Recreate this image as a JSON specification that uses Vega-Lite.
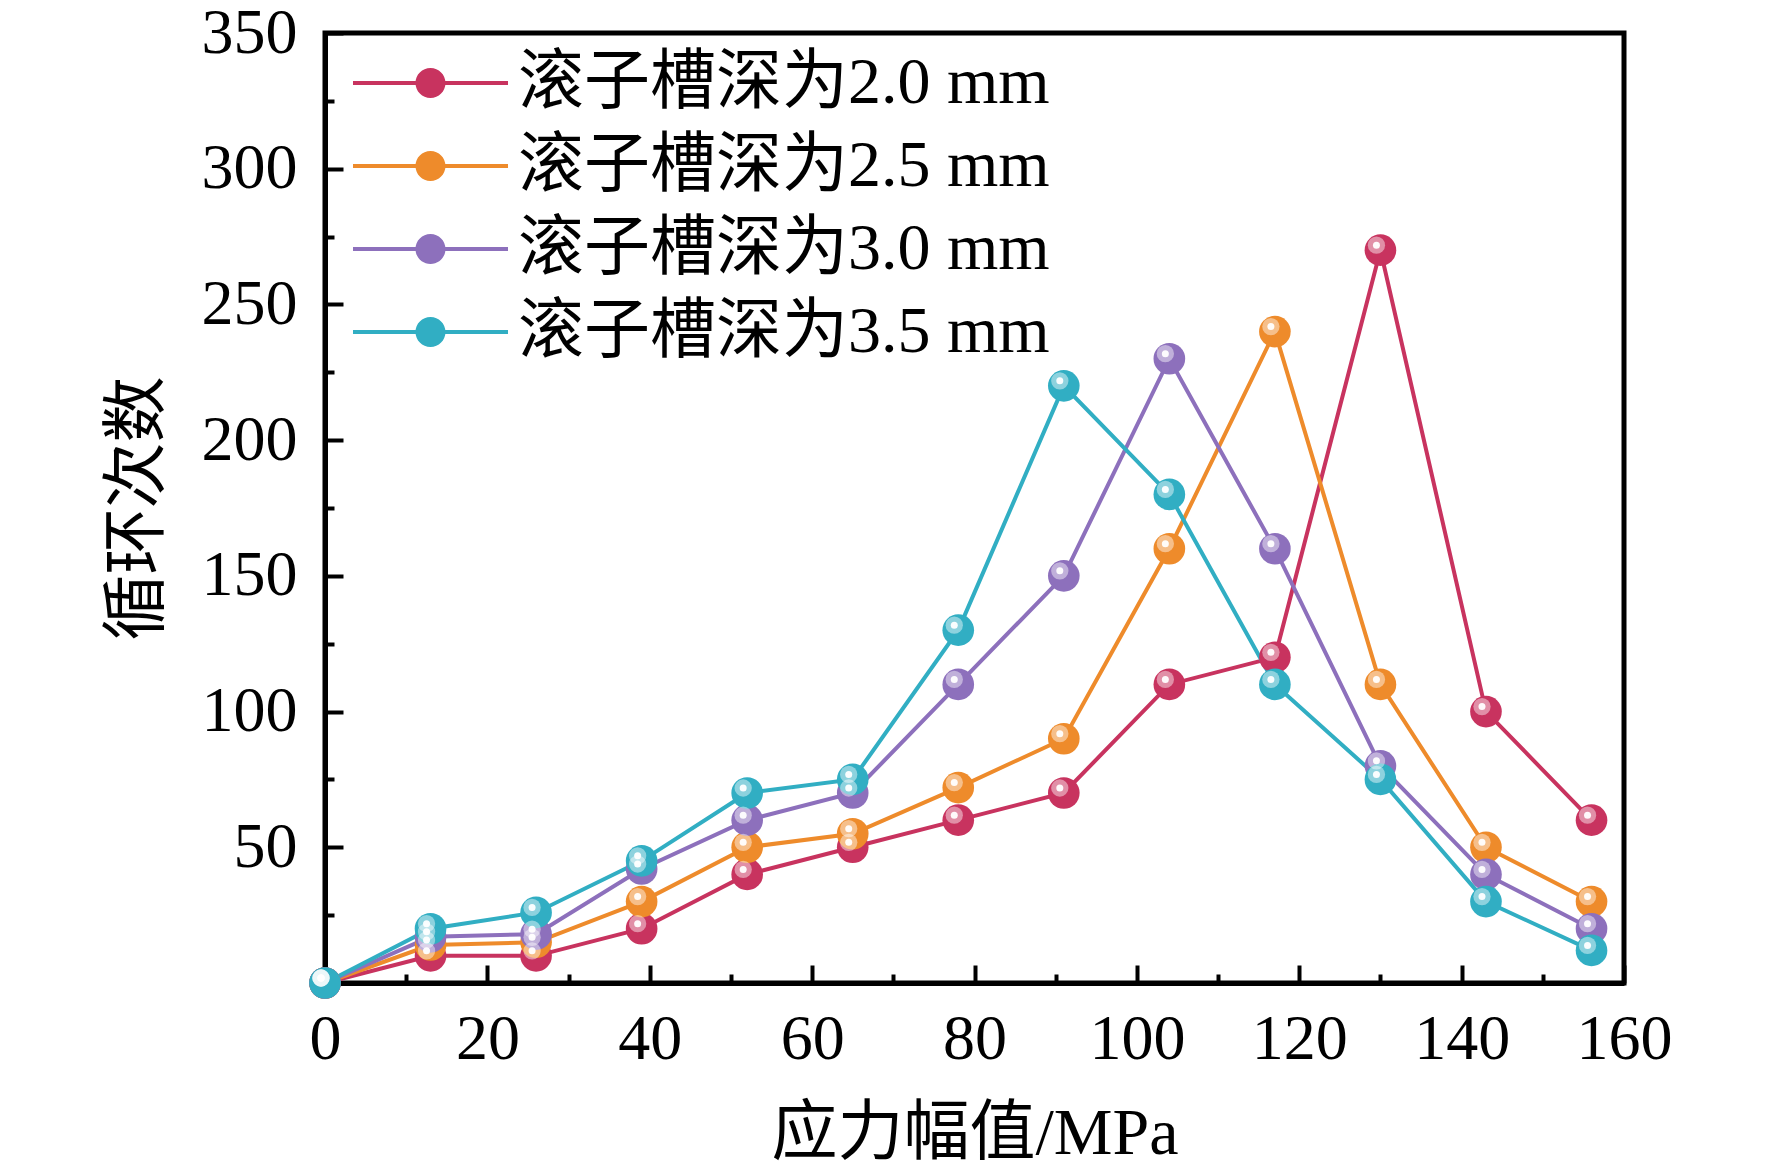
{
  "$schema": "https://vega.github.io/schema/vega-lite/v6.json",
  "autosize": {"type": "none"},
  "padding": {"left": 325, "top": 33, "right": 148, "bottom": 189},
  "width": 1299,
  "height": 950,
  "background": "white",
  "config": {
    "view": {"stroke": "black", "strokeWidth": 5},
    "font": "Liberation Serif, Noto Sans CJK SC",
    "axis": {
      "grid": false,
      "domainColor": "black",
      "domainWidth": 5,
      "tickColor": "black",
      "tickWidth": 4,
      "labelFont": "Liberation Serif",
      "labelFontSize": 64,
      "labelColor": "black",
      "titleFont": "Liberation Serif, Noto Sans CJK SC",
      "titleFontSize": 66,
      "titleFontWeight": "normal",
      "titleColor": "black"
    },
    "legend": {
      "labelFont": "Liberation Serif, Noto Sans CJK SC",
      "labelFontSize": 66,
      "labelColor": "black",
      "labelLimit": 0
    }
  },
  "data": {
    "values": [
      {"stress": 0, "cycles": 0, "depth": "滚子槽深为2.0 mm"},
      {"stress": 13, "cycles": 10, "depth": "滚子槽深为2.0 mm"},
      {"stress": 26, "cycles": 10, "depth": "滚子槽深为2.0 mm"},
      {"stress": 39, "cycles": 20, "depth": "滚子槽深为2.0 mm"},
      {"stress": 52, "cycles": 40, "depth": "滚子槽深为2.0 mm"},
      {"stress": 65, "cycles": 50, "depth": "滚子槽深为2.0 mm"},
      {"stress": 78, "cycles": 60, "depth": "滚子槽深为2.0 mm"},
      {"stress": 91, "cycles": 70, "depth": "滚子槽深为2.0 mm"},
      {"stress": 104, "cycles": 110, "depth": "滚子槽深为2.0 mm"},
      {"stress": 117, "cycles": 120, "depth": "滚子槽深为2.0 mm"},
      {"stress": 130, "cycles": 270, "depth": "滚子槽深为2.0 mm"},
      {"stress": 143, "cycles": 100, "depth": "滚子槽深为2.0 mm"},
      {"stress": 156, "cycles": 60, "depth": "滚子槽深为2.0 mm"},
      {"stress": 0, "cycles": 0, "depth": "滚子槽深为2.5 mm"},
      {"stress": 13, "cycles": 14, "depth": "滚子槽深为2.5 mm"},
      {"stress": 26, "cycles": 15, "depth": "滚子槽深为2.5 mm"},
      {"stress": 39, "cycles": 30, "depth": "滚子槽深为2.5 mm"},
      {"stress": 52, "cycles": 50, "depth": "滚子槽深为2.5 mm"},
      {"stress": 65, "cycles": 55, "depth": "滚子槽深为2.5 mm"},
      {"stress": 78, "cycles": 72, "depth": "滚子槽深为2.5 mm"},
      {"stress": 91, "cycles": 90, "depth": "滚子槽深为2.5 mm"},
      {"stress": 104, "cycles": 160, "depth": "滚子槽深为2.5 mm"},
      {"stress": 117, "cycles": 240, "depth": "滚子槽深为2.5 mm"},
      {"stress": 130, "cycles": 110, "depth": "滚子槽深为2.5 mm"},
      {"stress": 143, "cycles": 50, "depth": "滚子槽深为2.5 mm"},
      {"stress": 156, "cycles": 30, "depth": "滚子槽深为2.5 mm"},
      {"stress": 0, "cycles": 0, "depth": "滚子槽深为3.0 mm"},
      {"stress": 13, "cycles": 17, "depth": "滚子槽深为3.0 mm"},
      {"stress": 26, "cycles": 18, "depth": "滚子槽深为3.0 mm"},
      {"stress": 39, "cycles": 42, "depth": "滚子槽深为3.0 mm"},
      {"stress": 52, "cycles": 60, "depth": "滚子槽深为3.0 mm"},
      {"stress": 65, "cycles": 70, "depth": "滚子槽深为3.0 mm"},
      {"stress": 78, "cycles": 110, "depth": "滚子槽深为3.0 mm"},
      {"stress": 91, "cycles": 150, "depth": "滚子槽深为3.0 mm"},
      {"stress": 104, "cycles": 230, "depth": "滚子槽深为3.0 mm"},
      {"stress": 117, "cycles": 160, "depth": "滚子槽深为3.0 mm"},
      {"stress": 130, "cycles": 80, "depth": "滚子槽深为3.0 mm"},
      {"stress": 143, "cycles": 40, "depth": "滚子槽深为3.0 mm"},
      {"stress": 156, "cycles": 20, "depth": "滚子槽深为3.0 mm"},
      {"stress": 0, "cycles": 0, "depth": "滚子槽深为3.5 mm"},
      {"stress": 13, "cycles": 20, "depth": "滚子槽深为3.5 mm"},
      {"stress": 26, "cycles": 26, "depth": "滚子槽深为3.5 mm"},
      {"stress": 39, "cycles": 45, "depth": "滚子槽深为3.5 mm"},
      {"stress": 52, "cycles": 70, "depth": "滚子槽深为3.5 mm"},
      {"stress": 65, "cycles": 75, "depth": "滚子槽深为3.5 mm"},
      {"stress": 78, "cycles": 130, "depth": "滚子槽深为3.5 mm"},
      {"stress": 91, "cycles": 220, "depth": "滚子槽深为3.5 mm"},
      {"stress": 104, "cycles": 180, "depth": "滚子槽深为3.5 mm"},
      {"stress": 117, "cycles": 110, "depth": "滚子槽深为3.5 mm"},
      {"stress": 130, "cycles": 75, "depth": "滚子槽深为3.5 mm"},
      {"stress": 143, "cycles": 30, "depth": "滚子槽深为3.5 mm"},
      {"stress": 156, "cycles": 12, "depth": "滚子槽深为3.5 mm"}
    ]
  },
  "encoding": {
    "x": {
      "field": "stress",
      "type": "quantitative",
      "title": "应力幅值/MPa",
      "scale": {"domain": [0, 160], "nice": false, "zero": false},
      "axis": {
        "values": [0, 10, 20, 30, 40, 50, 60, 70, 80, 90, 100, 110, 120, 130, 140, 150, 160],
        "labelExpr": "datum.value % 20 === 0 ? datum.label : ''",
        "tickSize": {"condition": {"test": "datum.value % 20 === 0", "value": -18}, "value": -9},
        "labelPadding": 42,
        "labelFlush": false,
        "titlePadding": 30
      }
    },
    "y": {
      "field": "cycles",
      "type": "quantitative",
      "title": "循环次数",
      "scale": {"domain": [0, 350], "nice": false, "zero": false},
      "axis": {
        "values": [0, 25, 50, 75, 100, 125, 150, 175, 200, 225, 250, 275, 300, 325, 350],
        "labelExpr": "datum.value % 50 === 0 && datum.value > 0 ? datum.label : ''",
        "tickSize": {"condition": {"test": "datum.value % 50 === 0", "value": -18}, "value": -9},
        "labelPadding": 46,
        "labelFlush": false,
        "titlePadding": 30
      }
    },
    "color": {
      "field": "depth",
      "type": "nominal",
      "scale": {
        "domain": ["滚子槽深为2.0 mm", "滚子槽深为2.5 mm", "滚子槽深为3.0 mm", "滚子槽深为3.5 mm"],
        "range": ["#C8335F", "#EE8B2B", "#8D70BC", "#31AEC3"]
      },
      "legend": {
        "title": null,
        "orient": "none",
        "legendX": 25,
        "legendY": 17,
        "padding": 0,
        "symbolType": "M-1,-0.067L4.167,-0.067L4.167,0.067L-1,0.067Z M1.083,0A0.5,0.5,0,1,1,2.083,0A0.5,0.5,0,1,1,1.083,0Z",
        "symbolSize": 3600,
        "symbolStrokeWidth": 0,
        "labelOffset": 102,
        "rowPadding": 17,
        "encode": {
          "symbols": {"update": {"fill": {"scale": "color", "field": "value"}, "opacity": {"value": 1}}}
        }
      }
    }
  },
  "layer": [
    {"mark": {"type": "line", "strokeWidth": 4}},
    {"mark": {"type": "point", "filled": true, "size": 1000, "opacity": 1}},
    {
      "mark": {"type": "point", "filled": true, "size": 300, "opacity": 0.45, "xOffset": -4, "yOffset": -5},
      "encoding": {"color": {"value": "white"}}
    },
    {
      "mark": {"type": "point", "filled": true, "size": 49, "opacity": 0.95, "xOffset": -4, "yOffset": -5},
      "encoding": {"color": {"value": "white"}}
    }
  ]
}
